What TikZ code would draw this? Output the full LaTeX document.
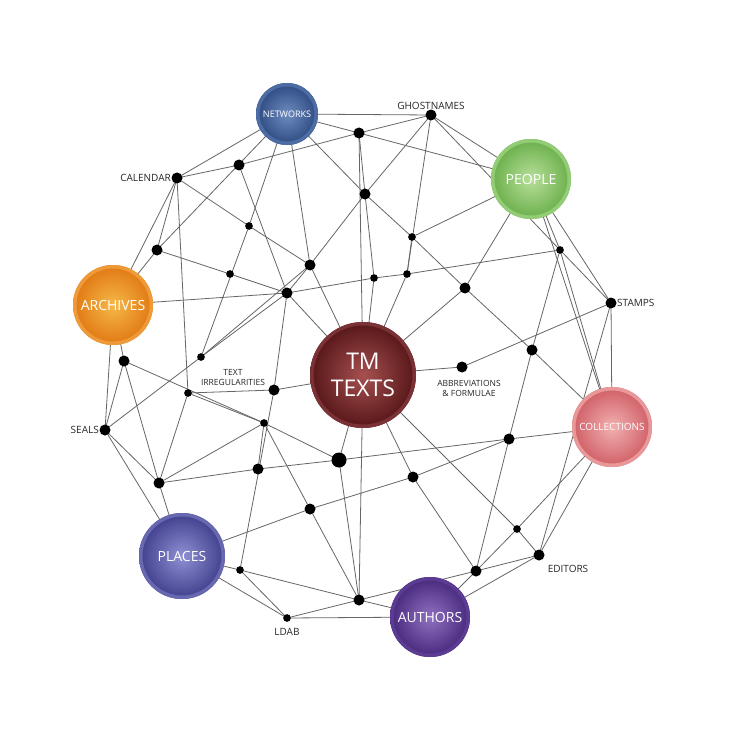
\documentclass[tikz,border=0pt]{standalone}
\usepackage{fontspec}
\setmainfont{Open Sans}
\definecolor{NETi}{HTML}{6F8CC0}\definecolor{NETo}{HTML}{2C4A80}\definecolor{NETr}{HTML}{4D6CA3}
\definecolor{PEOi}{HTML}{B8E09A}\definecolor{PEOo}{HTML}{6AAE4A}\definecolor{PEOr}{HTML}{92CC74}
\definecolor{ARCi}{HTML}{F6B848}\definecolor{ARCo}{HTML}{E07812}\definecolor{ARCr}{HTML}{EE9A38}
\definecolor{TMi}{HTML}{A65050}\definecolor{TMo}{HTML}{561618}\definecolor{TMr}{HTML}{7A3236}
\definecolor{COLi}{HTML}{F2B0B0}\definecolor{COLo}{HTML}{CF5E66}\definecolor{COLr}{HTML}{E89898}
\definecolor{PLAi}{HTML}{9090D4}\definecolor{PLAo}{HTML}{3E3E8C}\definecolor{PLAr}{HTML}{6868B0}
\definecolor{AUTi}{HTML}{9070C0}\definecolor{AUTo}{HTML}{46287C}\definecolor{AUTr}{HTML}{5C3C92}
\begin{document}
\begin{tikzpicture}[x=1pt,y=-1pt,
  ed/.style={draw=gray!80!black,line width=0.8pt},
  dt/.style={circle,fill=black,inner sep=0pt,minimum size=10pt},
  sd/.style={circle,fill=black,inner sep=0pt,minimum size=7pt},
  bd/.style={circle,fill=black,inner sep=0pt,minimum size=14pt},
  lb/.style={font=\fontsize{10}{11}\selectfont,text=black!85,align=center,inner sep=1pt},
  sl/.style={font=\fontsize{8.5}{10}\selectfont,text=black!85,align=center,inner sep=1pt}]
\useasboundingbox (0,0) rectangle (735,735);
\fill[white] (0,0) rectangle (735,735);
\coordinate (NET) at (287,114);
\coordinate (PEO) at (531,179);
\coordinate (ARC) at (113,305);
\coordinate (TM) at (363,375);
\coordinate (COL) at (612,427);
\coordinate (PLA) at (182,556);
\coordinate (AUT) at (430,617);
\node[dt] (g) at (431,115) {};
\node[dt] (n1) at (359,133) {};
\node[dt] (cal) at (177,178) {};
\node[dt] (n2) at (239,165) {};
\node[dt] (n3) at (365,194) {};
\node[sd] (n4) at (249,226) {};
\node[sd] (n5) at (412,237) {};
\node[dt] (n6) at (157,250) {};
\node[sd] (n7) at (230,274) {};
\node[dt] (n8) at (310,265) {};
\node[dt] (n9) at (287,293) {};
\node[sd] (n10) at (374,278) {};
\node[sd] (n11) at (407,274) {};
\node[sd] (n12) at (560,250) {};
\node[dt] (n13) at (465,288) {};
\node[dt] (st) at (611,303) {};
\node[dt] (n14) at (532,350) {};
\node[dt] (ab) at (462,367) {};
\node[dt] (n15) at (124,361) {};
\node[sd] (n16) at (201,357) {};
\node[sd] (ti) at (188,393) {};
\node[dt] (n17) at (274,390) {};
\node[dt] (se) at (105,430) {};
\node[sd] (n18) at (264,423) {};
\node[dt] (n19) at (509,439) {};
\node[bd] (n20) at (339,460) {};
\node[dt] (n21) at (258,469) {};
\node[dt] (n22) at (159,483) {};
\node[dt] (n23) at (413,477) {};
\node[dt] (n24) at (310,509) {};
\node[sd] (n25) at (517,529) {};
\node[dt] (edn) at (539,555) {};
\node[dt] (n26) at (476,571) {};
\node[sd] (n27) at (240,570) {};
\node[dt] (n28) at (359,600) {};
\node[sd] (ld) at (287,618) {};
\foreach \a/\b in {NET/g,NET/n1,n1/PEO,NET/cal,NET/n6,NET/n4,n4/n16,NET/n8,NET/n3,n3/n5,n5/n13,n13/n14,n14/COL,
 cal/n2,n2/n1,n1/g,cal/n4,n4/n8,cal/ARC,cal/n6,cal/ti,n2/n9,n6/n7,n7/n9,n6/ARC,n16/se,ARC/n9,n9/n10,n10/n11,n11/n12,
 n9/n8,n9/TM,n9/n17,n8/n3,n8/TM,n1/n3,n3/n10,n10/TM,n1/TM,g/PEO,g/n3,g/n11,n11/TM,g/n12,PEO/n5,n5/n11,PEO/n13,n13/TM,
 PEO/n12,n12/st,n12/n14,n12/COL,PEO/st,PEO/COL,st/ab,ab/TM,st/COL,st/edn,COL/edn,COL/n25,COL/n19,n14/n19,n19/n26,
 n19/n20,n19/n23,n23/n24,n24/PLA,n20/TM,n20/n21,n21/n22,n20/n18,n20/n28,ti/n18,n18/n24,n18/n22,n18/n21,TM/n17,TM/n23,
 TM/n28,TM/n25,n25/edn,n23/n26,n26/edn,n26/AUT,n26/n28,n26/n25,edn/AUT,n28/AUT,n28/n27,n28/ld,n28/n24,ld/AUT,ld/PLA,
 ld/n27,PLA/n27,n27/n17,n22/n15,se/n22,se/PLA,n22/PLA,n22/ti,se/n15,se/ARC,n15/n18,n8/n16,n17/ti,n15/ARC,n16/n9}
 \draw[ed] (\a) -- (\b);
\foreach \n in {g,n1,cal,n2,n3,n6,n8,n9,n13,st,n14,ab,n15,n17,se,n19,n21,n22,n23,n24,edn,n26,n28}
 \fill (\n) circle (5.5pt);
\foreach \n in {n4,n5,n7,n10,n11,n12,n16,ti,n18,n25,n27,ld}
 \fill (\n) circle (3.8pt);
\fill (n20) circle (7.5pt);
\newcommand{\myhub}[7]{%
 \shade[inner color=#3,outer color=#4] (#1) circle (#2);
 \draw[#5,line width=3.5pt] (#1) circle ({#2-1.75pt});
 \node[text=white,align=center,font=#6] at (#1) {#7};}
\myhub{NET}{31pt}{NETi}{NETo}{NETr}{\fontsize{9}{10}\selectfont}{NETWORKS}
\myhub{PEO}{40pt}{PEOi}{PEOo}{PEOr}{\fontsize{14}{15}\selectfont}{PEOPLE}
\myhub{ARC}{40pt}{ARCi}{ARCo}{ARCr}{\fontsize{14}{15}\selectfont}{ARCHIVES}
\myhub{TM}{53pt}{TMi}{TMo}{TMr}{\fontsize{23}{27}\selectfont}{TM\\TEXTS}
\myhub{COL}{40pt}{COLi}{COLo}{COLr}{\fontsize{10}{11}\selectfont}{COLLECTIONS}
\myhub{PLA}{43pt}{PLAi}{PLAo}{PLAr}{\fontsize{14}{15}\selectfont}{PLACES}
\myhub{AUT}{40pt}{AUTi}{AUTo}{AUTr}{\fontsize{14}{15}\selectfont}{AUTHORS}
\node[lb,above=4pt] (lg) at (g) {GHOSTNAMES};
\node[lb,left=5pt] (lc) at (cal) {CALENDAR};
\node[lb,right=5pt] (ls) at (st) {STAMPS};
\node[lb,left=5pt] (lse) at (se) {SEALS};
\node[sl] (la) at (469,388) {ABBREVIATIONS\\\& FORMULAE};
\node[sl] (lt) at (233,378) {TEXT\\IRREGULARITIES};
\node[lb] (le) at (568,569) {EDITORS};
\node[lb] (ll) at (287,632) {LDAB};
\end{tikzpicture}
\end{document}
